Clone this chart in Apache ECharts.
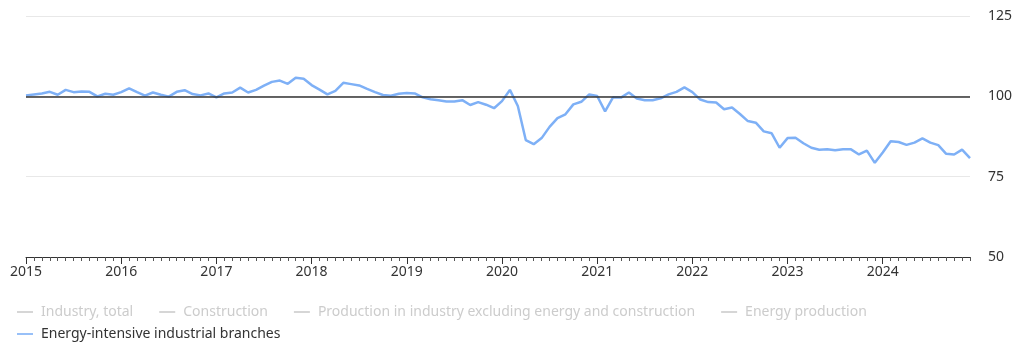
<!DOCTYPE html>
<html>
<head>
<meta charset="utf-8">
<script src="https://cdn.jsdelivr.net/npm/echarts@6/dist/echarts.min.js"></script>
<style>
  html, body { margin: 0; padding: 0; background: #fff; }
  #main { width: 1024px; height: 353px; }
</style>
</head>
<body>
<div id="main"></div>
<script>
// index values, 2015 = 100, monthly
var y2015 = [100.3, 100.6, 100.9, 101.4, 100.5, 102.0, 101.3, 101.5, 101.4, 100.0, 100.8, 100.5];
var y2016 = [101.3, 102.5, 101.3, 100.2, 101.2, 100.5, 99.9, 101.4, 101.9, 100.7, 100.3, 100.9];
var y2017 = [99.7, 100.9, 101.2, 102.7, 101.2, 102.0, 103.3, 104.5, 104.9, 103.9, 105.8, 105.5];
var y2018 = [103.5, 102.1, 100.6, 101.7, 104.2, 103.8, 103.4, 102.3, 101.3, 100.4, 100.2, 100.8];
var y2019 = [101.0, 100.9, 99.7, 99.1, 98.8, 98.4, 98.4, 98.8, 97.3, 98.2, 97.4, 96.3];
var y2020 = [98.5, 102.0, 97.0, 86.4, 85.1, 87.0, 90.5, 93.2, 94.4, 97.5, 98.3, 100.6];
var y2021 = [100.1, 95.3, 99.7, 99.6, 101.2, 99.3, 98.8, 98.8, 99.4, 100.6, 101.4, 102.8];
var y2022 = [101.3, 99.0, 98.2, 98.1, 96.0, 96.5, 94.5, 92.3, 91.8, 89.1, 88.5, 84.0];
var y2023 = [87.0, 87.1, 85.4, 84.0, 83.4, 83.5, 83.2, 83.5, 83.5, 81.9, 83.1, 79.3];
var y2024 = [82.5, 86.0, 85.8, 84.9, 85.6, 86.9, 85.6, 84.8, 82.1, 81.9, 83.4, 80.8];

var years = ['2015', '2016', '2017', '2018', '2019', '2020', '2021', '2022', '2023', '2024'];
var yTicks = [50, 75, 100, 125];
var seriesNames = [
  'Industry, total',
  'Construction',
  'Production in industry excluding energy and construction',
  'Energy production',
  'Energy-intensive industrial branches'
];

var energyIntensive = [].concat(y2015, y2016, y2017, y2018, y2019, y2020, y2021, y2022, y2023, y2024);

// month categories
var months = [];
years.forEach(function (yr) {
  for (var m = 1; m <= 12; m++) {
    months.push(yr + '-' + (m < 10 ? '0' + m : m));
  }
});

var chart = echarts.init(document.getElementById('main'));
var font = '"Noto Sans", "Open Sans", sans-serif';
var lineIcon = 'path://M0,0 H20 V2 H0 Z';

var series = [];
// the four greyed-out (hidden) series only live in the legend
for (var k = 0; k < 4; k++) {
  series.push({ name: seriesNames[k], type: 'line', data: [], color: '#cccccc' });
}
series.push({
  name: seriesNames[4],
  type: 'line',
  data: energyIntensive,
  color: '#7eb0f6',
  showSymbol: false,
  lineStyle: { width: 2.5, color: '#7eb0f6' },
  z: 3,
  markLine: {
    silent: true,
    symbol: 'none',
    label: { show: false },
    lineStyle: { color: '#333', width: 1.5, type: 'solid' },
    data: [{ yAxis: 100 }]
  }
});

var selected = {};
seriesNames.forEach(function (n, i) { selected[n] = (i === 4); });

var legendText = { fontSize: 14, color: '#333', fontFamily: font, padding: [0, 0, 0, 3] };

chart.setOption({
  animation: false,
  textStyle: { fontFamily: font },
  grid: { left: 26, right: 54, top: 16, bottom: 96 },
  legend: [
    {
      data: seriesNames.slice(0, 4),
      selected: selected,
      left: 12,
      top: 300,
      itemGap: 26,
      itemWidth: 16,
      itemHeight: 2,
      icon: lineIcon,
      inactiveColor: '#cccccc',
      textStyle: legendText
    },
    {
      data: [seriesNames[4]],
      selected: selected,
      left: 12,
      top: 322,
      itemWidth: 16,
      itemHeight: 2,
      icon: lineIcon,
      inactiveColor: '#cccccc',
      textStyle: legendText
    }
  ],
  xAxis: [
    {
      type: 'category',
      data: months,
      boundaryGap: false,
      axisLine: { lineStyle: { color: '#333', width: 1 } },
      axisTick: { interval: 0, length: 4, lineStyle: { color: '#555' } },
      axisLabel: {
        interval: function (idx) { return idx % 12 === 0; },
        formatter: function (v) { return v.slice(0, 4); },
        color: '#333',
        fontSize: 14,
        margin: 8,
        fontFamily: font
      },
      splitLine: { show: false }
    },
    {
      type: 'category',
      data: months,
      boundaryGap: false,
      position: 'bottom',
      axisLine: { show: false },
      axisTick: {
        interval: function (idx) { return idx % 12 === 0; },
        length: 7,
        lineStyle: { color: '#333' }
      },
      axisLabel: { show: false },
      splitLine: { show: false }
    }
  ],
  yAxis: {
    type: 'value',
    position: 'right',
    min: yTicks[0],
    max: yTicks[yTicks.length - 1],
    interval: 25,
    axisLine: { show: false },
    axisTick: { show: false },
    axisLabel: { color: '#333', fontSize: 14, margin: 18, fontFamily: font },
    splitLine: { lineStyle: { color: '#e8e8e8', width: 1 } }
  },
  series: series
});
</script>
</body>
</html>
